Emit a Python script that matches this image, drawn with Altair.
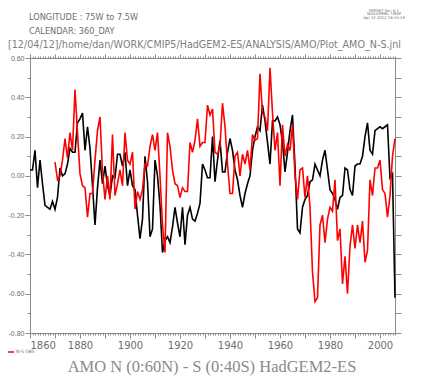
import altair as alt
import pandas as pd

# ---- data ----
black_start = 1860
black_vals = [
    0.03, 0.03, 0.13, -0.06, 0.08, -0.04, -0.15, -0.16, -0.17, -0.13,   # 1860-1869
    -0.17, -0.11, 0.04, 0.00, 0.01, 0.06, 0.14, 0.12, 0.12, 0.27,       # 1870-1879
    0.29, 0.32, 0.13, 0.25, 0.14, -0.05, -0.25, -0.06, 0.08, -0.04,     # 1880-1889
    0.05, -0.05, -0.10, 0.00, -0.01, 0.11, 0.11, 0.05, 0.12, -0.05,     # 1890-1899
    0.03, -0.05, -0.07, -0.20, -0.32, -0.22, 0.10, -0.03, -0.31, -0.27, # 1900-1909
    0.08, 0.00, -0.15, -0.39, -0.33, -0.31, -0.34, -0.26, -0.16, -0.24, # 1910-1919
    -0.31, -0.16, -0.35, -0.20, -0.16, -0.22, -0.23, -0.19, -0.14, 0.06,# 1920-1929
    0.03, -0.01, -0.01, 0.20, -0.03, 0.08, 0.18, 0.02, 0.02, 0.12,      # 1930-1939
    0.19, 0.13, 0.03, -0.02, -0.10, -0.16, -0.09, -0.04, 0.00, 0.13,    # 1940-1949
    0.20, 0.25, 0.23, 0.36, 0.28, 0.17, 0.06, 0.28, 0.28, 0.30,         # 1950-1959
    0.26, 0.17, 0.02, 0.12, 0.23, 0.31, 0.05, -0.27, -0.29, -0.16,      # 1960-1969
    -0.12, -0.10, -0.03, -0.02, 0.06, 0.03, 0.00, 0.08, 0.13, 0.03,     # 1970-1979
    -0.07, -0.09, -0.12, -0.17, -0.11, -0.10, 0.04, 0.03, -0.07, -0.10, # 1980-1989
    0.05, 0.06, 0.06, 0.10, 0.20, 0.27, 0.13, 0.11, 0.23, 0.24,         # 1990-1999
    0.25, 0.24, 0.25, 0.26, -0.01, 0.01, -0.62,                         # 2000-2006
]

red_start = 1870
red_vals = [
    0.07, -0.02, 0.00, 0.08, 0.19, 0.09, 0.22, 0.13, 0.44, 0.22,        # 1870-1879
    0.01, -0.05, -0.06, -0.21, -0.09, -0.09, 0.08, 0.23, 0.30, 0.02,    # 1880-1889
    -0.12, 0.00, -0.12, 0.21, -0.10, -0.04, 0.03, -0.05, 0.22, 0.08,    # 1890-1899
    0.06, 0.12, -0.17, -0.08, -0.12, -0.07, 0.06, 0.05, 0.15, 0.21,     # 1900-1909
    0.13, 0.22, 0.00, -0.25, -0.39, 0.22, 0.15, 0.03, -0.04, -0.05,     # 1910-1919
    -0.11, -0.06, -0.08, -0.08, 0.17, 0.12, 0.18, 0.29, 0.15, 0.17,     # 1920-1929
    0.17, 0.36, 0.31, 0.34, 0.12, 0.11, 0.15, 0.37, 0.25, 0.06,         # 1930-1939
    -0.09, -0.09, 0.10, 0.12, 0.00, 0.11, 0.06, 0.13, 0.03, 0.21,       # 1940-1949
    0.18, 0.19, 0.52, 0.32, 0.30, 0.23, 0.55, 0.32, 0.13, 0.22,         # 1950-1959
    -0.05, 0.26, 0.10, 0.16, 0.13, 0.26, 0.00, -0.12, 0.03, 0.04,       # 1960-1969
    -0.11, 0.00, -0.16, -0.49, -0.64, -0.62, -0.25, -0.20, -0.34, -0.22,# 1970-1979
    -0.16, -0.18, -0.02, -0.33, -0.27, -0.55, -0.41, -0.60, -0.36, -0.25,# 1980-1989
    -0.37, -0.25, -0.34, -0.23, -0.44, -0.38, -0.02, -0.10, 0.04, 0.04, # 1990-1999
    0.08, -0.07, -0.09, -0.21, -0.10, 0.10, 0.19,                       # 2000-2006
]

x_domain = [1860, 2006]
y_domain = [-0.8, 0.6]
year_ticks = list(range(1860, 2007))
y_ticks = [round(-0.8 + 0.1 * i, 1) for i in range(15)]

header_lines = ["LONGITUDE : 75W to 7.5W", "CALENDAR: 360_DAY"]
ferret_lines = ["FERRET Ver. 6.1", "NOAA/PMEL TMAP", "Apr 12 2012 16:14:19"]
path_text = "[12/04/12]/home/dan/WORK/CMIP5/HadGEM2-ES/ANALYSIS/AMO/Plot_AMO_N-S.jnl"
legend_label = "N-S OBS"
bottom_title = "AMO N (0:60N) - S (0:40S) HadGEM2-ES"

black_df = pd.DataFrame({"year": [black_start + i for i in range(len(black_vals))], "val": black_vals})
red_df = pd.DataFrame({"year": [red_start + i for i in range(len(red_vals))], "val": red_vals})

AX = "#8a8a8a"
LAB = "#6e6e6e"
FONT = "DejaVu Sans"

xscale = alt.Scale(domain=x_domain, nice=False, zero=False)
yscale = alt.Scale(domain=y_domain, nice=False, zero=False)

x_bottom = alt.Axis(
    orient="bottom", values=year_ticks, title=None, grid=False,
    labelExpr="datum.value % 20 === 0 ? datum.value : ''",
    labelOverlap=False, labelFont=FONT, labelFontSize=10, labelColor=LAB,
    labelPadding=2, domainColor=AX, tickColor=AX,
    tickSize={"condition": {"test": "datum.value % 10 === 0", "value": 5}, "value": 2},
)
x_top = alt.Axis(
    orient="top", values=year_ticks, title=None, grid=False, labels=False,
    domainColor=AX, tickColor=AX,
    tickSize={"condition": {"test": "datum.value % 10 === 0", "value": 4}, "value": 2},
)
y_left = alt.Axis(
    orient="left", values=y_ticks, title=None, grid=False,
    labelExpr="abs(round(datum.value*10)) % 2 === 0 ? replace(format(datum.value, '.2f'), '\u2212', '-') : ''",
    labelOverlap=False, labelFont="Liberation Sans", labelFontSize=7, labelColor=LAB,
    labelPadding=1, domainColor=AX, tickColor=AX,
    tickSize={"condition": {"test": "abs(round(datum.value*10)) % 2 === 0", "value": 5}, "value": 3},
)
y_right = alt.Axis(
    orient="right", values=y_ticks, title=None, grid=False, labels=False,
    domainColor=AX, tickColor=AX, tickSize=6,
)

black = alt.Chart(black_df).mark_line(color="black", strokeWidth=1.6).encode(
    x=alt.X("year:Q", scale=xscale, axis=x_bottom),
    y=alt.Y("val:Q", scale=yscale, axis=y_left),
)
red = alt.Chart(red_df).mark_line(color="#ff0000", strokeWidth=1.6).encode(
    x=alt.X("year:Q", scale=xscale, axis=x_top),
    y=alt.Y("val:Q", scale=yscale, axis=y_right),
)

one = pd.DataFrame({"k": [0]})

def txt(s, x, y, size, align="left", font=FONT, color=LAB):
    return alt.Chart(one).mark_text(
        text=s, align=align, baseline="middle", font=font, fontSize=size, color=color
    ).encode(x=alt.value(x), y=alt.value(y))

texts = [
    txt(header_lines[0], -1, -40, 8.2),
    txt(header_lines[1], -1, -26, 8.2),
    txt(ferret_lines[0], 354, -47.5, 3.8, align="center"),
    txt(ferret_lines[1], 354, -44, 3.8, align="center"),
    txt(ferret_lines[2], 354, -40.5, 3.8, align="center"),
    txt(path_text, -22, -13, 9.6, color="#808080"),
    txt(legend_label, -14, 294, 4.5),
    txt(bottom_title, 182, 309, 16.5, align="center", font="Liberation Serif", color="#8a8a8a"),
]

legend_line = alt.Chart(one).mark_rule(color="#ff0000", strokeWidth=1.5).encode(
    x=alt.value(-22), x2=alt.value(-16), y=alt.value(294)
)

chart = alt.layer(black, red, legend_line, *texts).resolve_axis(
    x="independent", y="independent"
).properties(
    width=365, height=275,
    padding={"left": 22, "top": 50, "right": 23, "bottom": 44},
    autosize=alt.AutoSizeParams(type="none"),
).configure_view(stroke=None)

chart.save("out.html", embed_options={"renderer": "svg", "actions": False})
